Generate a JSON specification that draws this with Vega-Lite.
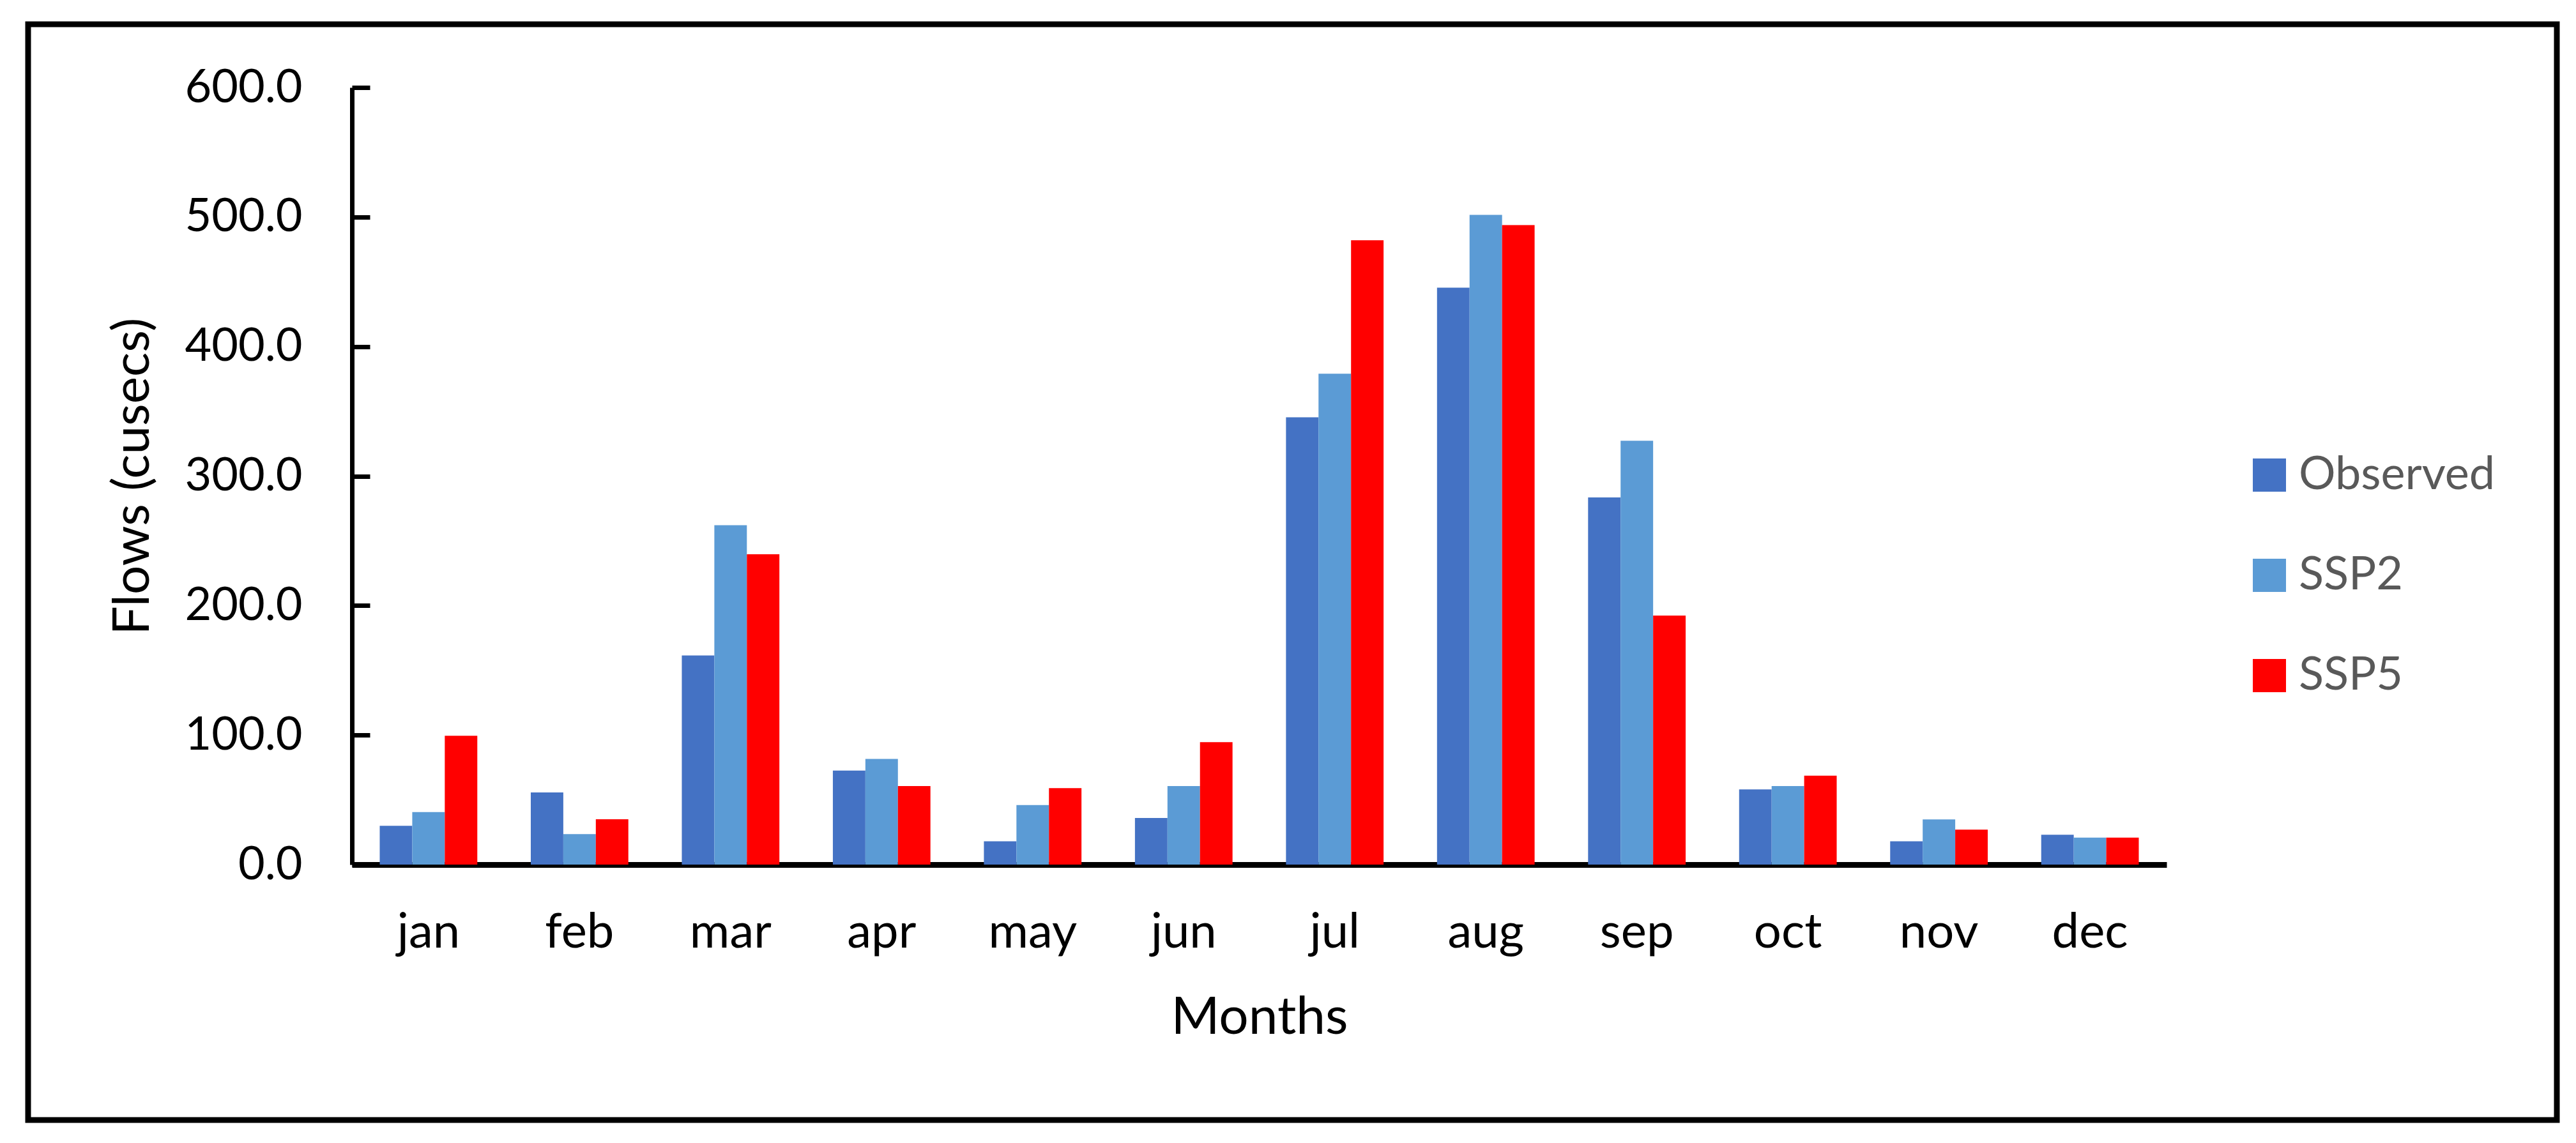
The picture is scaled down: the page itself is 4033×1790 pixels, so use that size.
{
  "$schema": "https://vega.github.io/schema/vega-lite/v6.json",
  "autosize": {"type": "none"},
  "width": 3959,
  "height": 1716,
  "padding": {"left": 44, "top": 38, "right": 30, "bottom": 36},
  "background": "white",
  "data": {
    "values": [
      {"month": "jan", "series": "Observed", "flow": 30},
      {"month": "jan", "series": "SSP2", "flow": 40.5},
      {"month": "jan", "series": "SSP5", "flow": 99.5},
      {"month": "feb", "series": "Observed", "flow": 55.7},
      {"month": "feb", "series": "SSP2", "flow": 23.6},
      {"month": "feb", "series": "SSP5", "flow": 35},
      {"month": "mar", "series": "Observed", "flow": 161.5},
      {"month": "mar", "series": "SSP2", "flow": 262},
      {"month": "mar", "series": "SSP5", "flow": 239.6},
      {"month": "apr", "series": "Observed", "flow": 72.6},
      {"month": "apr", "series": "SSP2", "flow": 81.6},
      {"month": "apr", "series": "SSP5", "flow": 60.7},
      {"month": "may", "series": "Observed", "flow": 18},
      {"month": "may", "series": "SSP2", "flow": 46},
      {"month": "may", "series": "SSP5", "flow": 59},
      {"month": "jun", "series": "Observed", "flow": 36},
      {"month": "jun", "series": "SSP2", "flow": 60.7},
      {"month": "jun", "series": "SSP5", "flow": 94.5},
      {"month": "jul", "series": "Observed", "flow": 345.3},
      {"month": "jul", "series": "SSP2", "flow": 379},
      {"month": "jul", "series": "SSP5", "flow": 482},
      {"month": "aug", "series": "Observed", "flow": 445.4},
      {"month": "aug", "series": "SSP2", "flow": 501.7},
      {"month": "aug", "series": "SSP5", "flow": 493.8},
      {"month": "sep", "series": "Observed", "flow": 283.5},
      {"month": "sep", "series": "SSP2", "flow": 327.3},
      {"month": "sep", "series": "SSP5", "flow": 192.3},
      {"month": "oct", "series": "Observed", "flow": 58},
      {"month": "oct", "series": "SSP2", "flow": 60.7},
      {"month": "oct", "series": "SSP5", "flow": 68.6},
      {"month": "nov", "series": "Observed", "flow": 18},
      {"month": "nov", "series": "SSP2", "flow": 34.9},
      {"month": "nov", "series": "SSP5", "flow": 27},
      {"month": "dec", "series": "Observed", "flow": 23},
      {"month": "dec", "series": "SSP2", "flow": 20.8},
      {"month": "dec", "series": "SSP5", "flow": 20.8}
    ]
  },
  "mark": {"type": "bar"},
  "encoding": {
    "x": {
      "field": "month",
      "type": "nominal",
      "sort": ["jan","feb","mar","apr","may","jun","jul","aug","sep","oct","nov","dec"],
      "scale": {"range": [507, 3348], "paddingInner": 0.354, "paddingOuter": 0.184},
      "axis": {
        "title": "Months",
        "offset": -400,
        "labelAngle": 0,
        "ticks": false,
        "tickSize": 0,
        "labelPadding": 69,
        "labelFont": "Lato",
        "labelFontSize": 76,
        "labelColor": "black",
        "domainColor": "black",
        "domainWidth": 9,
        "titleFont": "Lato",
        "titleFontSize": 82,
        "titleFontWeight": "normal",
        "titleColor": "black",
        "titlePadding": 55
      }
    },
    "xOffset": {
      "field": "series",
      "type": "nominal",
      "sort": ["Observed","SSP2","SSP5"],
      "scale": {"paddingInner": 0.0}
    },
    "y": {
      "field": "flow",
      "type": "quantitative",
      "scale": {"domain": [0, 600], "range": [1316, 99], "nice": false},
      "axis": {
        "title": "Flows (cusecs)",
        "offset": -507,
        "values": [0, 100, 200, 300, 400, 500, 600],
        "format": ".1f",
        "grid": false,
        "tickSize": -28,
        "tickWidth": 7,
        "tickColor": "black",
        "labelPadding": 106,
        "labelLimit": 500,
        "labelFont": "Lato",
        "labelFontSize": 72,
        "labelColor": "black",
        "domainColor": "black",
        "domainWidth": 7,
        "titleFont": "Lato",
        "titleFontSize": 80,
        "titleFontWeight": "normal",
        "titleColor": "black",
        "titleX": -302
      }
    },
    "color": {
      "field": "series",
      "type": "nominal",
      "sort": ["Observed","SSP2","SSP5"],
      "scale": {"domain": ["Observed","SSP2","SSP5"], "range": ["#4472C4","#5B9BD5","#FF0000"]},
      "legend": {
        "title": null,
        "orient": "none",
        "direction": "vertical",
        "legendX": 3473,
        "legendY": 670,
        "symbolType": "square",
        "symbolSize": 2700,
        "symbolStrokeWidth": 0,
        "labelFont": "Lato",
        "labelFontSize": 72,
        "labelColor": "#595959",
        "labelOffset": 10,
        "labelLimit": 800,
        "rowPadding": 85
      }
    }
  },
  "config": {
    "view": {"stroke": "black", "strokeWidth": 9},
    "bar": {"stroke": null}
  }
}
